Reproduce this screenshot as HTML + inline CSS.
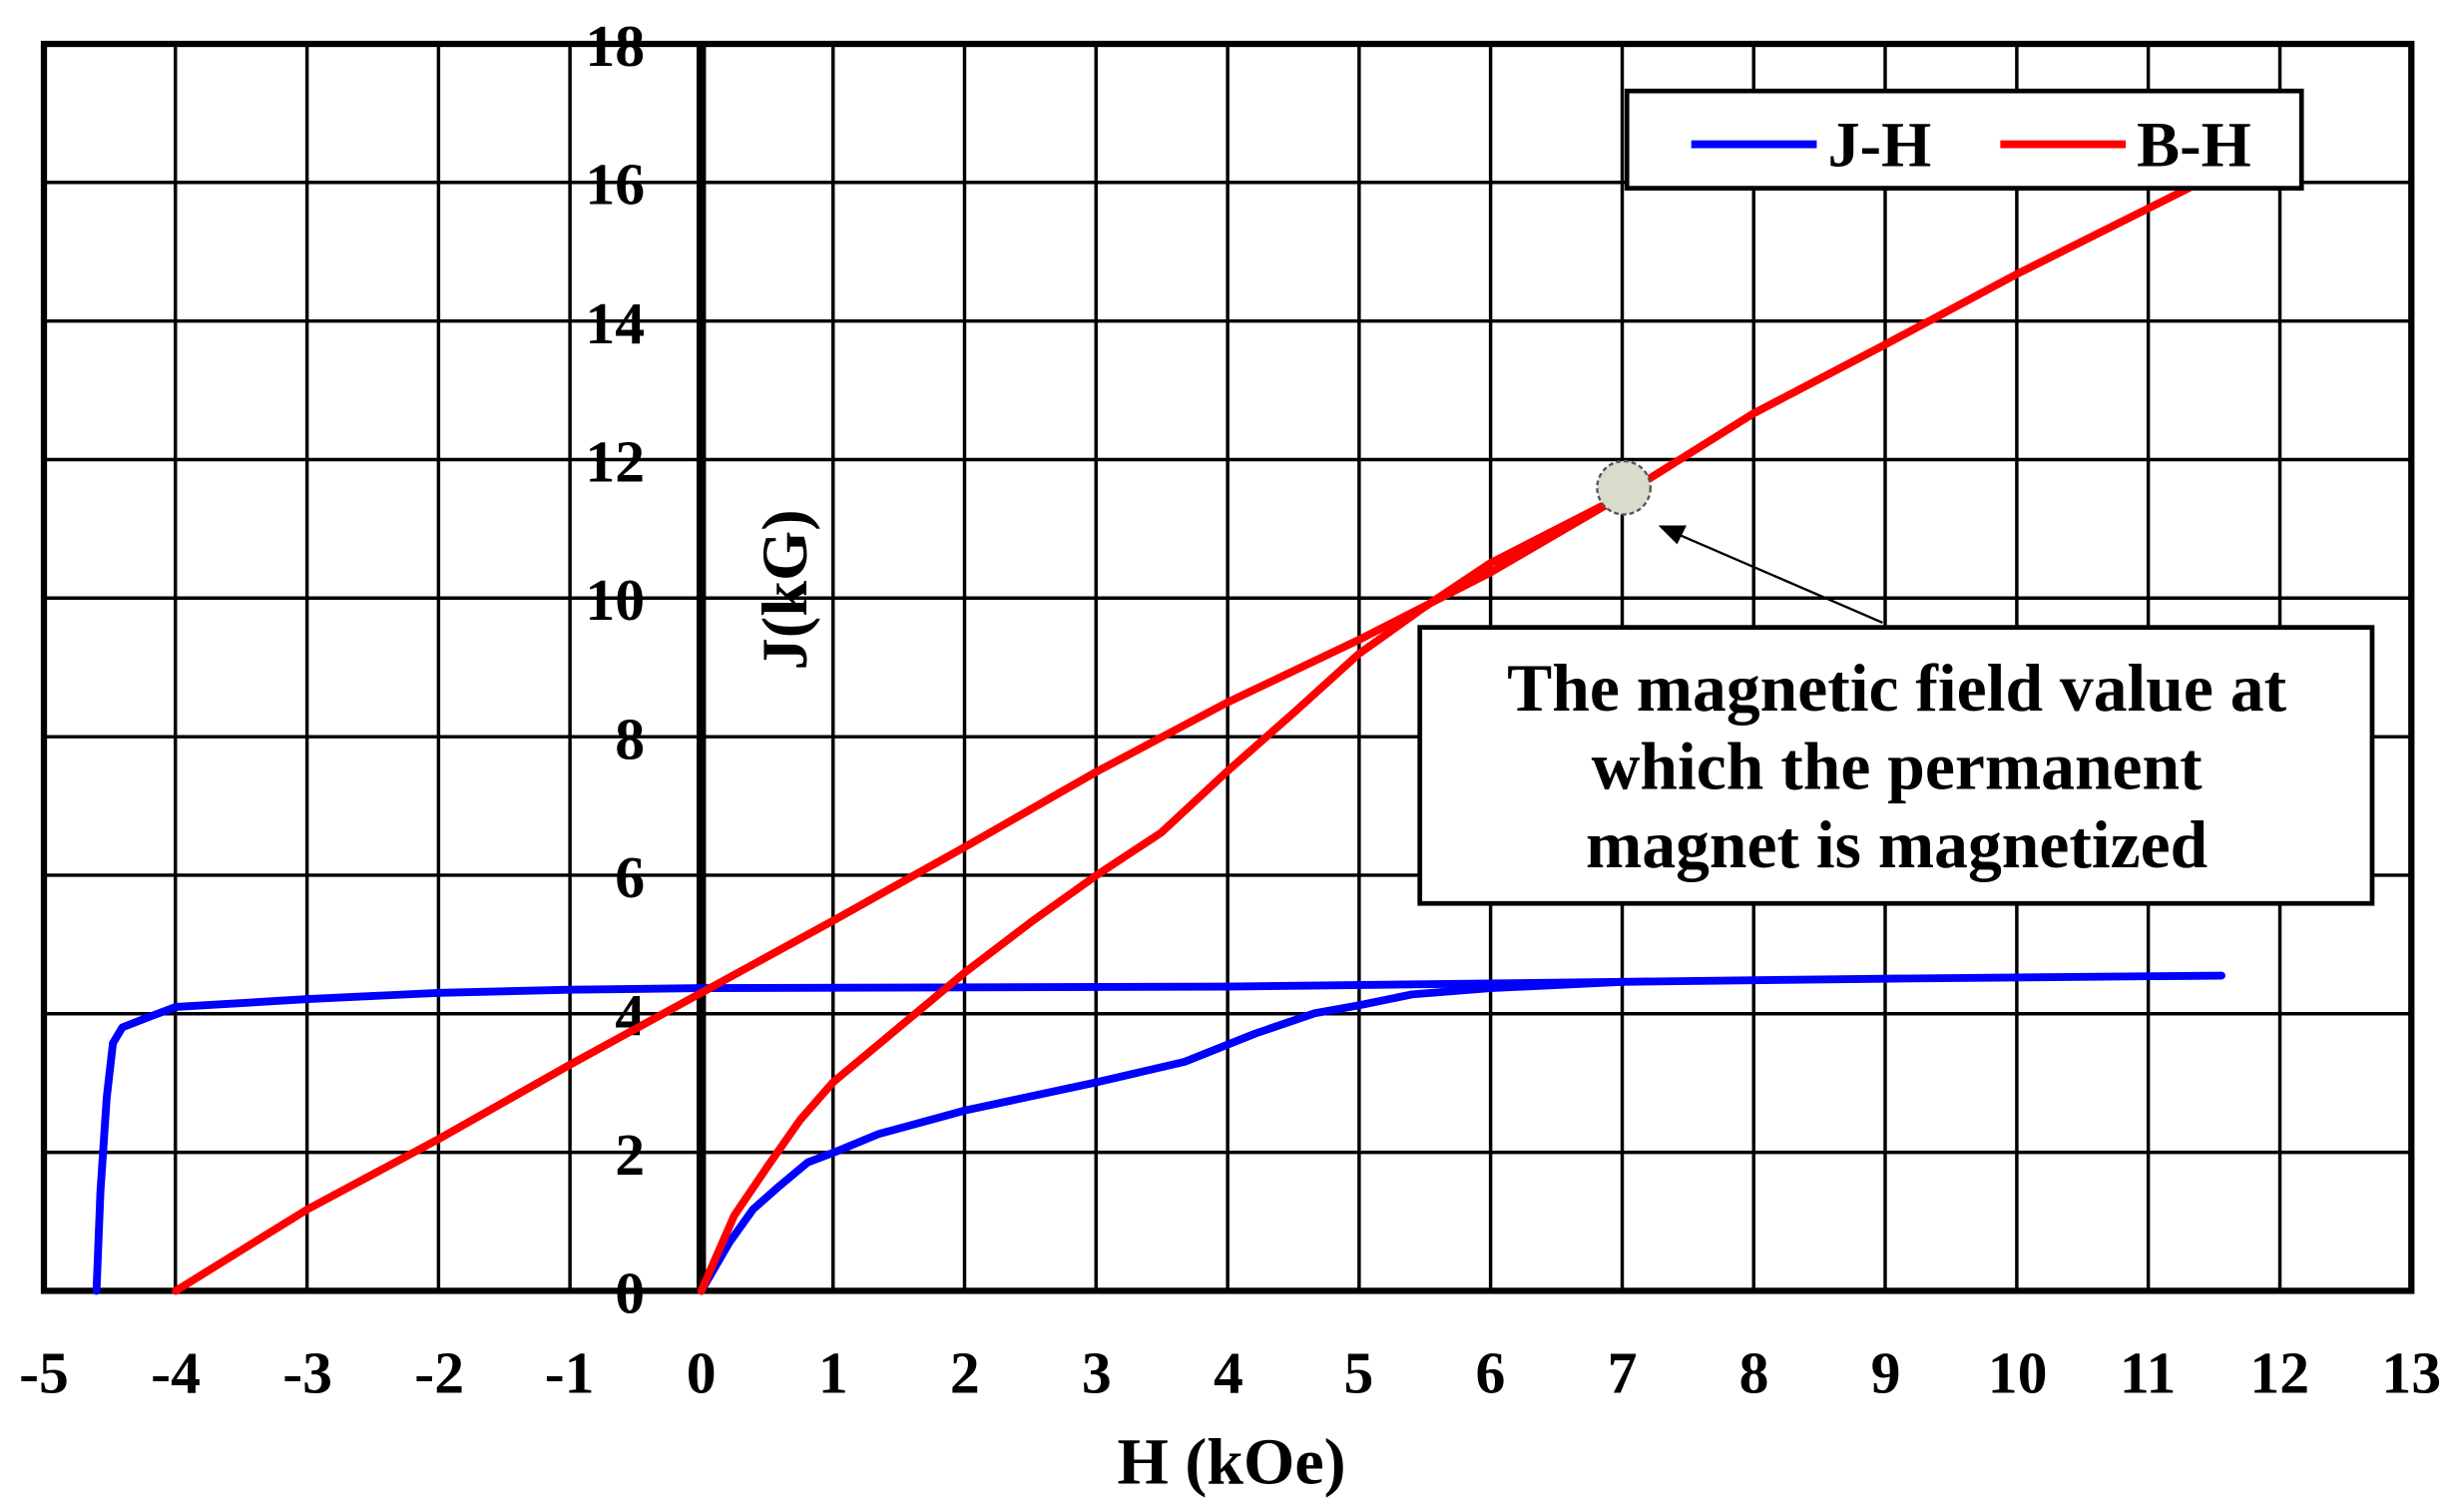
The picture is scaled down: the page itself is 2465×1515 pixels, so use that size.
<!DOCTYPE html>
<html><head><style>html,body{margin:0;padding:0;background:#fff}svg{display:block}</style></head>
<body>
<svg width="2465" height="1515" viewBox="0 0 1568 964" preserveAspectRatio="none" xmlns="http://www.w3.org/2000/svg" font-family="'Liberation Serif',serif" font-weight="bold">
<g stroke="#000" stroke-width="2.2">
<line x1="111.8" y1="28" x2="111.8" y2="823"/><line x1="195.7" y1="28" x2="195.7" y2="823"/><line x1="279.5" y1="28" x2="279.5" y2="823"/><line x1="363.3" y1="28" x2="363.3" y2="823"/>
<line x1="531" y1="28" x2="531" y2="823"/><line x1="614.8" y1="28" x2="614.8" y2="823"/><line x1="698.6" y1="28" x2="698.6" y2="823"/><line x1="782.5" y1="28" x2="782.5" y2="823"/><line x1="866.3" y1="28" x2="866.3" y2="823"/><line x1="950.1" y1="28" x2="950.1" y2="823"/><line x1="1034" y1="28" x2="1034" y2="823"/><line x1="1117.8" y1="28" x2="1117.8" y2="823"/><line x1="1201.6" y1="28" x2="1201.6" y2="823"/><line x1="1285.5" y1="28" x2="1285.5" y2="823"/><line x1="1369.3" y1="28" x2="1369.3" y2="823"/><line x1="1453.2" y1="28" x2="1453.2" y2="823"/>
<line x1="28" y1="116.3" x2="1537" y2="116.3"/><line x1="28" y1="204.7" x2="1537" y2="204.7"/><line x1="28" y1="293" x2="1537" y2="293"/><line x1="28" y1="381.3" x2="1537" y2="381.3"/><line x1="28" y1="469.7" x2="1537" y2="469.7"/><line x1="28" y1="558" x2="1537" y2="558"/><line x1="28" y1="646.3" x2="1537" y2="646.3"/><line x1="28" y1="734.7" x2="1537" y2="734.7"/>
</g>
<rect x="28" y="28" width="1509" height="795" fill="none" stroke="#000" stroke-width="4"/>
<line x1="447" y1="28" x2="447" y2="823" stroke="#000" stroke-width="6"/>
<g font-size="38" text-anchor="end">
<text x="411" y="42">18</text><text x="411" y="130">16</text><text x="411" y="219">14</text><text x="411" y="307">12</text><text x="411" y="395">10</text><text x="411" y="484">8</text><text x="411" y="572">6</text><text x="411" y="660">4</text><text x="411" y="749">2</text><text x="411" y="837">0</text>
</g>
<g font-size="38" text-anchor="middle">
<text x="28" y="888">-5</text><text x="112" y="888">-4</text><text x="196" y="888">-3</text><text x="280" y="888">-2</text><text x="363" y="888">-1</text><text x="447" y="888">0</text><text x="531" y="888">1</text><text x="615" y="888">2</text><text x="699" y="888">3</text><text x="783" y="888">4</text><text x="866" y="888">5</text><text x="950" y="888">6</text><text x="1034" y="888">7</text><text x="1118" y="888">8</text><text x="1202" y="888">9</text><text x="1286" y="888">10</text><text x="1369" y="888">11</text><text x="1453" y="888">12</text><text x="1537" y="888">13</text>
<text x="785" y="946" font-size="42">H (kOe)</text>
<text transform="translate(514,376) rotate(-90)" font-size="41">J(kG)</text>
</g>
<g fill="none" stroke-width="5" stroke-linejoin="round" stroke-linecap="round">
<polyline stroke="#0000ff" points="61.5,823 64,760 68,700 72,665 78,655 96,648 112,642 196,637 280,633 363,631 447,630 782,629 1034,626 1200,624 1416,622"/>
<polyline stroke="#0000ff" points="447,823 465,792 480,771 497,756 515,741 531,735 560,723 615,708 699,690 755,677 800,659 838,646 866,641 900,634 950,630 1034,626"/>
<polyline stroke="#ff0000" points="112,823 196,771 280,726 363,679 447,633 531,587 615,540 699,492 782,448 866,408 950,365 1034,316 1117,264 1201,220 1285,175 1395,120"/>
<polyline stroke="#ff0000" points="447,823 468,775 489,744 510,714 531,690 573,655 615,620 657,588 699,558 740,531 782,492 824,455 866,417 908,387 950,359 1034,316"/>
</g>
<circle cx="1035" cy="311" r="17" fill="#d9dccb" stroke="#555" stroke-width="1.5" stroke-dasharray="3,2"/>
<line x1="1200" y1="397" x2="1068" y2="340" stroke="#000" stroke-width="1.5"/>
<polygon points="1057,335 1075,335 1069,347" fill="#000"/>
<rect x="1037" y="58" width="430" height="62" fill="#fff" stroke="#000" stroke-width="3"/>
<line x1="1078" y1="92" x2="1158" y2="92" stroke="#0000ff" stroke-width="5"/>
<line x1="1275" y1="92" x2="1355" y2="92" stroke="#ff0000" stroke-width="5"/>
<text x="1165" y="106" font-size="41">J-H</text>
<text x="1362" y="106" font-size="41">B-H</text>
<rect x="905" y="400" width="607" height="176" fill="#fff" stroke="#000" stroke-width="3"/>
<g font-size="43" text-anchor="middle">
<text x="1209" y="453">The magnetic field value at</text>
<text x="1209" y="503">which the permanent</text>
<text x="1209" y="553">magnet is magnetized</text>
</g>
</svg>
</body></html>
